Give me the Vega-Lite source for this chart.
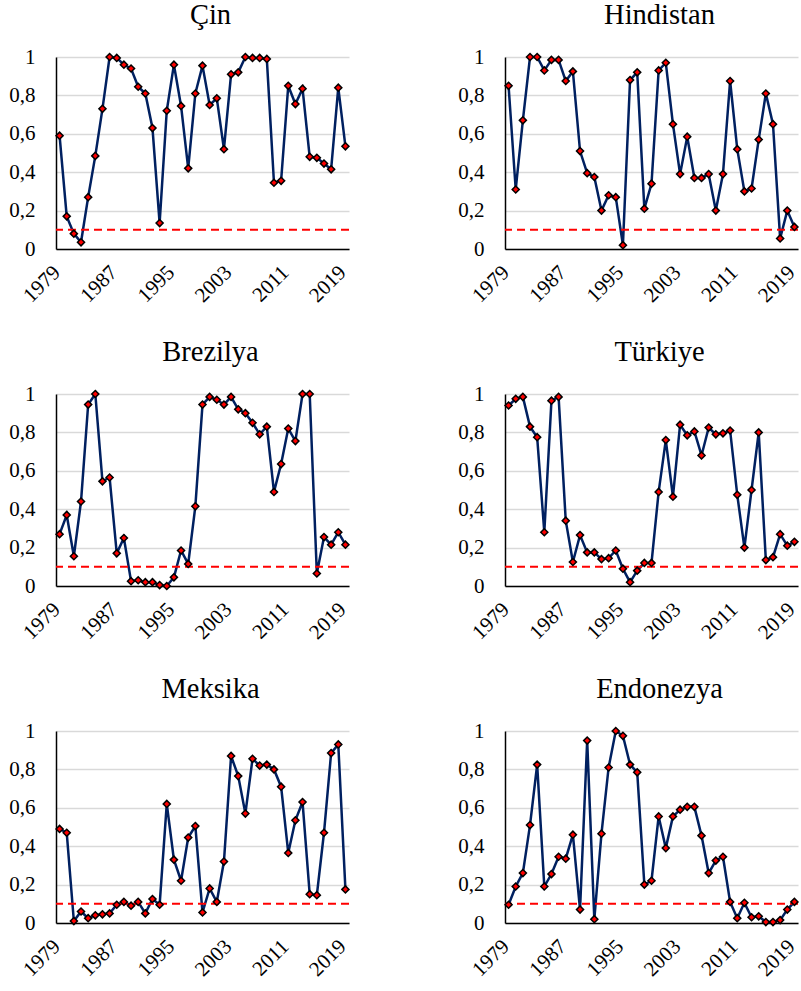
{
  "$schema": "https://vega.github.io/schema/vega-lite/v6.json",
  "background": "white",
  "padding": {"left": 8, "top": 0, "right": 0, "bottom": 0},
  "datasets": {
    "thr": [{"threshold": 0.1}],
    "d": [
      {"country":"Çin","year":1979,"value":0.59},{"country":"Çin","year":1980,"value":0.17},{"country":"Çin","year":1981,"value":0.08},{"country":"Çin","year":1982,"value":0.035},{"country":"Çin","year":1983,"value":0.27},{"country":"Çin","year":1984,"value":0.485},{"country":"Çin","year":1985,"value":0.73},{"country":"Çin","year":1986,"value":1.0},{"country":"Çin","year":1987,"value":0.995},{"country":"Çin","year":1988,"value":0.96},{"country":"Çin","year":1989,"value":0.94},{"country":"Çin","year":1990,"value":0.845},{"country":"Çin","year":1991,"value":0.81},{"country":"Çin","year":1992,"value":0.63},{"country":"Çin","year":1993,"value":0.135},{"country":"Çin","year":1994,"value":0.72},{"country":"Çin","year":1995,"value":0.96},{"country":"Çin","year":1996,"value":0.745},{"country":"Çin","year":1997,"value":0.42},{"country":"Çin","year":1998,"value":0.81},{"country":"Çin","year":1999,"value":0.955},{"country":"Çin","year":2000,"value":0.75},{"country":"Çin","year":2001,"value":0.785},{"country":"Çin","year":2002,"value":0.52},{"country":"Çin","year":2003,"value":0.91},{"country":"Çin","year":2004,"value":0.92},{"country":"Çin","year":2005,"value":1.0},{"country":"Çin","year":2006,"value":0.995},{"country":"Çin","year":2007,"value":0.995},{"country":"Çin","year":2008,"value":0.99},{"country":"Çin","year":2009,"value":0.345},{"country":"Çin","year":2010,"value":0.355},{"country":"Çin","year":2011,"value":0.85},{"country":"Çin","year":2012,"value":0.755},{"country":"Çin","year":2013,"value":0.835},{"country":"Çin","year":2014,"value":0.48},{"country":"Çin","year":2015,"value":0.475},{"country":"Çin","year":2016,"value":0.445},{"country":"Çin","year":2017,"value":0.415},{"country":"Çin","year":2018,"value":0.84},{"country":"Çin","year":2019,"value":0.535},
      {"country":"Hindistan","year":1979,"value":0.85},{"country":"Hindistan","year":1980,"value":0.31},{"country":"Hindistan","year":1981,"value":0.67},{"country":"Hindistan","year":1982,"value":1.0},{"country":"Hindistan","year":1983,"value":1.0},{"country":"Hindistan","year":1984,"value":0.93},{"country":"Hindistan","year":1985,"value":0.985},{"country":"Hindistan","year":1986,"value":0.985},{"country":"Hindistan","year":1987,"value":0.875},{"country":"Hindistan","year":1988,"value":0.925},{"country":"Hindistan","year":1989,"value":0.51},{"country":"Hindistan","year":1990,"value":0.395},{"country":"Hindistan","year":1991,"value":0.375},{"country":"Hindistan","year":1992,"value":0.2},{"country":"Hindistan","year":1993,"value":0.28},{"country":"Hindistan","year":1994,"value":0.27},{"country":"Hindistan","year":1995,"value":0.02},{"country":"Hindistan","year":1996,"value":0.88},{"country":"Hindistan","year":1997,"value":0.92},{"country":"Hindistan","year":1998,"value":0.21},{"country":"Hindistan","year":1999,"value":0.34},{"country":"Hindistan","year":2000,"value":0.93},{"country":"Hindistan","year":2001,"value":0.97},{"country":"Hindistan","year":2002,"value":0.65},{"country":"Hindistan","year":2003,"value":0.39},{"country":"Hindistan","year":2004,"value":0.585},{"country":"Hindistan","year":2005,"value":0.37},{"country":"Hindistan","year":2006,"value":0.37},{"country":"Hindistan","year":2007,"value":0.39},{"country":"Hindistan","year":2008,"value":0.2},{"country":"Hindistan","year":2009,"value":0.39},{"country":"Hindistan","year":2010,"value":0.875},{"country":"Hindistan","year":2011,"value":0.52},{"country":"Hindistan","year":2012,"value":0.3},{"country":"Hindistan","year":2013,"value":0.315},{"country":"Hindistan","year":2014,"value":0.57},{"country":"Hindistan","year":2015,"value":0.81},{"country":"Hindistan","year":2016,"value":0.65},{"country":"Hindistan","year":2017,"value":0.055},{"country":"Hindistan","year":2018,"value":0.2},{"country":"Hindistan","year":2019,"value":0.115},
      {"country":"Brezilya","year":1979,"value":0.27},{"country":"Brezilya","year":1980,"value":0.37},{"country":"Brezilya","year":1981,"value":0.155},{"country":"Brezilya","year":1982,"value":0.44},{"country":"Brezilya","year":1983,"value":0.945},{"country":"Brezilya","year":1984,"value":1.0},{"country":"Brezilya","year":1985,"value":0.545},{"country":"Brezilya","year":1986,"value":0.565},{"country":"Brezilya","year":1987,"value":0.17},{"country":"Brezilya","year":1988,"value":0.25},{"country":"Brezilya","year":1989,"value":0.025},{"country":"Brezilya","year":1990,"value":0.03},{"country":"Brezilya","year":1991,"value":0.02},{"country":"Brezilya","year":1992,"value":0.02},{"country":"Brezilya","year":1993,"value":0.005},{"country":"Brezilya","year":1994,"value":0.0},{"country":"Brezilya","year":1995,"value":0.045},{"country":"Brezilya","year":1996,"value":0.185},{"country":"Brezilya","year":1997,"value":0.115},{"country":"Brezilya","year":1998,"value":0.415},{"country":"Brezilya","year":1999,"value":0.945},{"country":"Brezilya","year":2000,"value":0.985},{"country":"Brezilya","year":2001,"value":0.97},{"country":"Brezilya","year":2002,"value":0.945},{"country":"Brezilya","year":2003,"value":0.985},{"country":"Brezilya","year":2004,"value":0.92},{"country":"Brezilya","year":2005,"value":0.9},{"country":"Brezilya","year":2006,"value":0.85},{"country":"Brezilya","year":2007,"value":0.79},{"country":"Brezilya","year":2008,"value":0.83},{"country":"Brezilya","year":2009,"value":0.49},{"country":"Brezilya","year":2010,"value":0.635},{"country":"Brezilya","year":2011,"value":0.82},{"country":"Brezilya","year":2012,"value":0.755},{"country":"Brezilya","year":2013,"value":1.0},{"country":"Brezilya","year":2014,"value":1.0},{"country":"Brezilya","year":2015,"value":0.065},{"country":"Brezilya","year":2016,"value":0.255},{"country":"Brezilya","year":2017,"value":0.215},{"country":"Brezilya","year":2018,"value":0.28},{"country":"Brezilya","year":2019,"value":0.215},
      {"country":"Türkiye","year":1979,"value":0.94},{"country":"Türkiye","year":1980,"value":0.975},{"country":"Türkiye","year":1981,"value":0.985},{"country":"Türkiye","year":1982,"value":0.83},{"country":"Türkiye","year":1983,"value":0.775},{"country":"Türkiye","year":1984,"value":0.28},{"country":"Türkiye","year":1985,"value":0.965},{"country":"Türkiye","year":1986,"value":0.985},{"country":"Türkiye","year":1987,"value":0.34},{"country":"Türkiye","year":1988,"value":0.125},{"country":"Türkiye","year":1989,"value":0.265},{"country":"Türkiye","year":1990,"value":0.175},{"country":"Türkiye","year":1991,"value":0.175},{"country":"Türkiye","year":1992,"value":0.14},{"country":"Türkiye","year":1993,"value":0.145},{"country":"Türkiye","year":1994,"value":0.185},{"country":"Türkiye","year":1995,"value":0.09},{"country":"Türkiye","year":1996,"value":0.02},{"country":"Türkiye","year":1997,"value":0.08},{"country":"Türkiye","year":1998,"value":0.12},{"country":"Türkiye","year":1999,"value":0.12},{"country":"Türkiye","year":2000,"value":0.49},{"country":"Türkiye","year":2001,"value":0.76},{"country":"Türkiye","year":2002,"value":0.465},{"country":"Türkiye","year":2003,"value":0.84},{"country":"Türkiye","year":2004,"value":0.785},{"country":"Türkiye","year":2005,"value":0.805},{"country":"Türkiye","year":2006,"value":0.68},{"country":"Türkiye","year":2007,"value":0.825},{"country":"Türkiye","year":2008,"value":0.79},{"country":"Türkiye","year":2009,"value":0.795},{"country":"Türkiye","year":2010,"value":0.81},{"country":"Türkiye","year":2011,"value":0.475},{"country":"Türkiye","year":2012,"value":0.2},{"country":"Türkiye","year":2013,"value":0.5},{"country":"Türkiye","year":2014,"value":0.8},{"country":"Türkiye","year":2015,"value":0.135},{"country":"Türkiye","year":2016,"value":0.15},{"country":"Türkiye","year":2017,"value":0.27},{"country":"Türkiye","year":2018,"value":0.21},{"country":"Türkiye","year":2019,"value":0.23},
      {"country":"Meksika","year":1979,"value":0.49},{"country":"Meksika","year":1980,"value":0.47},{"country":"Meksika","year":1981,"value":0.01},{"country":"Meksika","year":1982,"value":0.06},{"country":"Meksika","year":1983,"value":0.025},{"country":"Meksika","year":1984,"value":0.04},{"country":"Meksika","year":1985,"value":0.045},{"country":"Meksika","year":1986,"value":0.05},{"country":"Meksika","year":1987,"value":0.095},{"country":"Meksika","year":1988,"value":0.11},{"country":"Meksika","year":1989,"value":0.09},{"country":"Meksika","year":1990,"value":0.11},{"country":"Meksika","year":1991,"value":0.05},{"country":"Meksika","year":1992,"value":0.125},{"country":"Meksika","year":1993,"value":0.095},{"country":"Meksika","year":1994,"value":0.62},{"country":"Meksika","year":1995,"value":0.33},{"country":"Meksika","year":1996,"value":0.22},{"country":"Meksika","year":1997,"value":0.445},{"country":"Meksika","year":1998,"value":0.505},{"country":"Meksika","year":1999,"value":0.055},{"country":"Meksika","year":2000,"value":0.18},{"country":"Meksika","year":2001,"value":0.11},{"country":"Meksika","year":2002,"value":0.32},{"country":"Meksika","year":2003,"value":0.87},{"country":"Meksika","year":2004,"value":0.765},{"country":"Meksika","year":2005,"value":0.57},{"country":"Meksika","year":2006,"value":0.855},{"country":"Meksika","year":2007,"value":0.82},{"country":"Meksika","year":2008,"value":0.825},{"country":"Meksika","year":2009,"value":0.8},{"country":"Meksika","year":2010,"value":0.71},{"country":"Meksika","year":2011,"value":0.365},{"country":"Meksika","year":2012,"value":0.535},{"country":"Meksika","year":2013,"value":0.63},{"country":"Meksika","year":2014,"value":0.15},{"country":"Meksika","year":2015,"value":0.145},{"country":"Meksika","year":2016,"value":0.47},{"country":"Meksika","year":2017,"value":0.885},{"country":"Meksika","year":2018,"value":0.93},{"country":"Meksika","year":2019,"value":0.175},
      {"country":"Endonezya","year":1979,"value":0.095},{"country":"Endonezya","year":1980,"value":0.19},{"country":"Endonezya","year":1981,"value":0.26},{"country":"Endonezya","year":1982,"value":0.51},{"country":"Endonezya","year":1983,"value":0.825},{"country":"Endonezya","year":1984,"value":0.19},{"country":"Endonezya","year":1985,"value":0.255},{"country":"Endonezya","year":1986,"value":0.345},{"country":"Endonezya","year":1987,"value":0.335},{"country":"Endonezya","year":1988,"value":0.46},{"country":"Endonezya","year":1989,"value":0.07},{"country":"Endonezya","year":1990,"value":0.95},{"country":"Endonezya","year":1991,"value":0.02},{"country":"Endonezya","year":1992,"value":0.465},{"country":"Endonezya","year":1993,"value":0.81},{"country":"Endonezya","year":1994,"value":1.0},{"country":"Endonezya","year":1995,"value":0.975},{"country":"Endonezya","year":1996,"value":0.825},{"country":"Endonezya","year":1997,"value":0.785},{"country":"Endonezya","year":1998,"value":0.2},{"country":"Endonezya","year":1999,"value":0.22},{"country":"Endonezya","year":2000,"value":0.555},{"country":"Endonezya","year":2001,"value":0.39},{"country":"Endonezya","year":2002,"value":0.555},{"country":"Endonezya","year":2003,"value":0.59},{"country":"Endonezya","year":2004,"value":0.605},{"country":"Endonezya","year":2005,"value":0.605},{"country":"Endonezya","year":2006,"value":0.455},{"country":"Endonezya","year":2007,"value":0.26},{"country":"Endonezya","year":2008,"value":0.325},{"country":"Endonezya","year":2009,"value":0.345},{"country":"Endonezya","year":2010,"value":0.11},{"country":"Endonezya","year":2011,"value":0.025},{"country":"Endonezya","year":2012,"value":0.105},{"country":"Endonezya","year":2013,"value":0.03},{"country":"Endonezya","year":2014,"value":0.035},{"country":"Endonezya","year":2015,"value":0.005},{"country":"Endonezya","year":2016,"value":0.005},{"country":"Endonezya","year":2017,"value":0.015},{"country":"Endonezya","year":2018,"value":0.07},{"country":"Endonezya","year":2019,"value":0.11}
    ]
  },
  "columns": 2,
  "spacing": {"row": 145, "column": 156},
  "bounds": "flush",
  "concat": [
    {"width": 293, "height": 192, "title": "Çin",
     "layer": [
      {"data": {"name": "d"}, "transform": [{"filter": "datum.country == 'Çin'"}], "mark": {"type": "line", "color": "#002060", "strokeWidth": 2.5},
       "encoding": {"x": {"field": "year", "type": "quantitative", "title": null, "scale": {"domain": [1978.5, 2019.5], "nice": false, "zero": false}, "axis": {"values": [1979, 1987, 1995, 2003, 2011, 2019], "format": "d", "labelAngle": -45, "labelAlign": "right", "labelBaseline": "middle", "labelPadding": 20, "labelOffset": -3, "labelOverlap": false, "labelFont": "Liberation Serif, serif", "labelFontSize": 21}},
        "y": {"field": "value", "type": "quantitative", "title": null, "scale": {"domain": [0, 1], "nice": false}, "axis": {"values": [0, 0.2, 0.4, 0.6, 0.8, 1], "labelExpr": "replace(format(datum.value, '~g'), '.', ',')", "labelPadding": 21, "grid": true, "labelOverlap": false, "labelFont": "Liberation Serif, serif", "labelFontSize": 21}}}},
      {"data": {"name": "thr"}, "mark": {"type": "rule", "color": "#FF0000", "strokeWidth": 2, "strokeDash": [8, 5]}, "encoding": {"y": {"field": "threshold", "type": "quantitative", "title": null, "axis": {"values": [0, 0.2, 0.4, 0.6, 0.8, 1], "labelExpr": "replace(format(datum.value, '~g'), '.', ',')", "labelPadding": 21, "grid": true, "labelOverlap": false, "labelFont": "Liberation Serif, serif", "labelFontSize": 21}}}},
      {"data": {"name": "d"}, "transform": [{"filter": "datum.country == 'Çin'"}], "mark": {"type": "point", "shape": "diamond", "filled": true, "fill": "#FF0000", "stroke": "black", "strokeWidth": 1.5, "size": 50, "opacity": 1},
       "encoding": {"x": {"field": "year", "type": "quantitative", "title": null, "axis": {"values": [1979, 1987, 1995, 2003, 2011, 2019], "format": "d", "labelAngle": -45, "labelAlign": "right", "labelBaseline": "middle", "labelPadding": 20, "labelOffset": -3, "labelOverlap": false, "labelFont": "Liberation Serif, serif", "labelFontSize": 21}}, "y": {"field": "value", "type": "quantitative", "title": null, "axis": {"values": [0, 0.2, 0.4, 0.6, 0.8, 1], "labelExpr": "replace(format(datum.value, '~g'), '.', ',')", "labelPadding": 21, "grid": true, "labelOverlap": false, "labelFont": "Liberation Serif, serif", "labelFontSize": 21}}}}
     ]},
    {"width": 293, "height": 192, "title": "Hindistan",
     "layer": [
      {"data": {"name": "d"}, "transform": [{"filter": "datum.country == 'Hindistan'"}], "mark": {"type": "line", "color": "#002060", "strokeWidth": 2.5},
       "encoding": {"x": {"field": "year", "type": "quantitative", "title": null, "scale": {"domain": [1978.5, 2019.5], "nice": false, "zero": false}, "axis": {"values": [1979, 1987, 1995, 2003, 2011, 2019], "format": "d", "labelAngle": -45, "labelAlign": "right", "labelBaseline": "middle", "labelPadding": 20, "labelOffset": -3, "labelOverlap": false, "labelFont": "Liberation Serif, serif", "labelFontSize": 21}},
        "y": {"field": "value", "type": "quantitative", "title": null, "scale": {"domain": [0, 1], "nice": false}, "axis": {"values": [0, 0.2, 0.4, 0.6, 0.8, 1], "labelExpr": "replace(format(datum.value, '~g'), '.', ',')", "labelPadding": 21, "grid": true, "labelOverlap": false, "labelFont": "Liberation Serif, serif", "labelFontSize": 21}}}},
      {"data": {"name": "thr"}, "mark": {"type": "rule", "color": "#FF0000", "strokeWidth": 2, "strokeDash": [8, 5]}, "encoding": {"y": {"field": "threshold", "type": "quantitative", "title": null, "axis": {"values": [0, 0.2, 0.4, 0.6, 0.8, 1], "labelExpr": "replace(format(datum.value, '~g'), '.', ',')", "labelPadding": 21, "grid": true, "labelOverlap": false, "labelFont": "Liberation Serif, serif", "labelFontSize": 21}}}},
      {"data": {"name": "d"}, "transform": [{"filter": "datum.country == 'Hindistan'"}], "mark": {"type": "point", "shape": "diamond", "filled": true, "fill": "#FF0000", "stroke": "black", "strokeWidth": 1.5, "size": 50, "opacity": 1},
       "encoding": {"x": {"field": "year", "type": "quantitative", "title": null, "axis": {"values": [1979, 1987, 1995, 2003, 2011, 2019], "format": "d", "labelAngle": -45, "labelAlign": "right", "labelBaseline": "middle", "labelPadding": 20, "labelOffset": -3, "labelOverlap": false, "labelFont": "Liberation Serif, serif", "labelFontSize": 21}}, "y": {"field": "value", "type": "quantitative", "title": null, "axis": {"values": [0, 0.2, 0.4, 0.6, 0.8, 1], "labelExpr": "replace(format(datum.value, '~g'), '.', ',')", "labelPadding": 21, "grid": true, "labelOverlap": false, "labelFont": "Liberation Serif, serif", "labelFontSize": 21}}}}
     ]},
    {"width": 293, "height": 192, "title": "Brezilya",
     "layer": [
      {"data": {"name": "d"}, "transform": [{"filter": "datum.country == 'Brezilya'"}], "mark": {"type": "line", "color": "#002060", "strokeWidth": 2.5},
       "encoding": {"x": {"field": "year", "type": "quantitative", "title": null, "scale": {"domain": [1978.5, 2019.5], "nice": false, "zero": false}, "axis": {"values": [1979, 1987, 1995, 2003, 2011, 2019], "format": "d", "labelAngle": -45, "labelAlign": "right", "labelBaseline": "middle", "labelPadding": 20, "labelOffset": -3, "labelOverlap": false, "labelFont": "Liberation Serif, serif", "labelFontSize": 21}},
        "y": {"field": "value", "type": "quantitative", "title": null, "scale": {"domain": [0, 1], "nice": false}, "axis": {"values": [0, 0.2, 0.4, 0.6, 0.8, 1], "labelExpr": "replace(format(datum.value, '~g'), '.', ',')", "labelPadding": 21, "grid": true, "labelOverlap": false, "labelFont": "Liberation Serif, serif", "labelFontSize": 21}}}},
      {"data": {"name": "thr"}, "mark": {"type": "rule", "color": "#FF0000", "strokeWidth": 2, "strokeDash": [8, 5]}, "encoding": {"y": {"field": "threshold", "type": "quantitative", "title": null, "axis": {"values": [0, 0.2, 0.4, 0.6, 0.8, 1], "labelExpr": "replace(format(datum.value, '~g'), '.', ',')", "labelPadding": 21, "grid": true, "labelOverlap": false, "labelFont": "Liberation Serif, serif", "labelFontSize": 21}}}},
      {"data": {"name": "d"}, "transform": [{"filter": "datum.country == 'Brezilya'"}], "mark": {"type": "point", "shape": "diamond", "filled": true, "fill": "#FF0000", "stroke": "black", "strokeWidth": 1.5, "size": 50, "opacity": 1},
       "encoding": {"x": {"field": "year", "type": "quantitative", "title": null, "axis": {"values": [1979, 1987, 1995, 2003, 2011, 2019], "format": "d", "labelAngle": -45, "labelAlign": "right", "labelBaseline": "middle", "labelPadding": 20, "labelOffset": -3, "labelOverlap": false, "labelFont": "Liberation Serif, serif", "labelFontSize": 21}}, "y": {"field": "value", "type": "quantitative", "title": null, "axis": {"values": [0, 0.2, 0.4, 0.6, 0.8, 1], "labelExpr": "replace(format(datum.value, '~g'), '.', ',')", "labelPadding": 21, "grid": true, "labelOverlap": false, "labelFont": "Liberation Serif, serif", "labelFontSize": 21}}}}
     ]},
    {"width": 293, "height": 192, "title": "Türkiye",
     "layer": [
      {"data": {"name": "d"}, "transform": [{"filter": "datum.country == 'Türkiye'"}], "mark": {"type": "line", "color": "#002060", "strokeWidth": 2.5},
       "encoding": {"x": {"field": "year", "type": "quantitative", "title": null, "scale": {"domain": [1978.5, 2019.5], "nice": false, "zero": false}, "axis": {"values": [1979, 1987, 1995, 2003, 2011, 2019], "format": "d", "labelAngle": -45, "labelAlign": "right", "labelBaseline": "middle", "labelPadding": 20, "labelOffset": -3, "labelOverlap": false, "labelFont": "Liberation Serif, serif", "labelFontSize": 21}},
        "y": {"field": "value", "type": "quantitative", "title": null, "scale": {"domain": [0, 1], "nice": false}, "axis": {"values": [0, 0.2, 0.4, 0.6, 0.8, 1], "labelExpr": "replace(format(datum.value, '~g'), '.', ',')", "labelPadding": 21, "grid": true, "labelOverlap": false, "labelFont": "Liberation Serif, serif", "labelFontSize": 21}}}},
      {"data": {"name": "thr"}, "mark": {"type": "rule", "color": "#FF0000", "strokeWidth": 2, "strokeDash": [8, 5]}, "encoding": {"y": {"field": "threshold", "type": "quantitative", "title": null, "axis": {"values": [0, 0.2, 0.4, 0.6, 0.8, 1], "labelExpr": "replace(format(datum.value, '~g'), '.', ',')", "labelPadding": 21, "grid": true, "labelOverlap": false, "labelFont": "Liberation Serif, serif", "labelFontSize": 21}}}},
      {"data": {"name": "d"}, "transform": [{"filter": "datum.country == 'Türkiye'"}], "mark": {"type": "point", "shape": "diamond", "filled": true, "fill": "#FF0000", "stroke": "black", "strokeWidth": 1.5, "size": 50, "opacity": 1},
       "encoding": {"x": {"field": "year", "type": "quantitative", "title": null, "axis": {"values": [1979, 1987, 1995, 2003, 2011, 2019], "format": "d", "labelAngle": -45, "labelAlign": "right", "labelBaseline": "middle", "labelPadding": 20, "labelOffset": -3, "labelOverlap": false, "labelFont": "Liberation Serif, serif", "labelFontSize": 21}}, "y": {"field": "value", "type": "quantitative", "title": null, "axis": {"values": [0, 0.2, 0.4, 0.6, 0.8, 1], "labelExpr": "replace(format(datum.value, '~g'), '.', ',')", "labelPadding": 21, "grid": true, "labelOverlap": false, "labelFont": "Liberation Serif, serif", "labelFontSize": 21}}}}
     ]},
    {"width": 293, "height": 192, "title": "Meksika",
     "layer": [
      {"data": {"name": "d"}, "transform": [{"filter": "datum.country == 'Meksika'"}], "mark": {"type": "line", "color": "#002060", "strokeWidth": 2.5},
       "encoding": {"x": {"field": "year", "type": "quantitative", "title": null, "scale": {"domain": [1978.5, 2019.5], "nice": false, "zero": false}, "axis": {"values": [1979, 1987, 1995, 2003, 2011, 2019], "format": "d", "labelAngle": -45, "labelAlign": "right", "labelBaseline": "middle", "labelPadding": 20, "labelOffset": -3, "labelOverlap": false, "labelFont": "Liberation Serif, serif", "labelFontSize": 21}},
        "y": {"field": "value", "type": "quantitative", "title": null, "scale": {"domain": [0, 1], "nice": false}, "axis": {"values": [0, 0.2, 0.4, 0.6, 0.8, 1], "labelExpr": "replace(format(datum.value, '~g'), '.', ',')", "labelPadding": 21, "grid": true, "labelOverlap": false, "labelFont": "Liberation Serif, serif", "labelFontSize": 21}}}},
      {"data": {"name": "thr"}, "mark": {"type": "rule", "color": "#FF0000", "strokeWidth": 2, "strokeDash": [8, 5]}, "encoding": {"y": {"field": "threshold", "type": "quantitative", "title": null, "axis": {"values": [0, 0.2, 0.4, 0.6, 0.8, 1], "labelExpr": "replace(format(datum.value, '~g'), '.', ',')", "labelPadding": 21, "grid": true, "labelOverlap": false, "labelFont": "Liberation Serif, serif", "labelFontSize": 21}}}},
      {"data": {"name": "d"}, "transform": [{"filter": "datum.country == 'Meksika'"}], "mark": {"type": "point", "shape": "diamond", "filled": true, "fill": "#FF0000", "stroke": "black", "strokeWidth": 1.5, "size": 50, "opacity": 1},
       "encoding": {"x": {"field": "year", "type": "quantitative", "title": null, "axis": {"values": [1979, 1987, 1995, 2003, 2011, 2019], "format": "d", "labelAngle": -45, "labelAlign": "right", "labelBaseline": "middle", "labelPadding": 20, "labelOffset": -3, "labelOverlap": false, "labelFont": "Liberation Serif, serif", "labelFontSize": 21}}, "y": {"field": "value", "type": "quantitative", "title": null, "axis": {"values": [0, 0.2, 0.4, 0.6, 0.8, 1], "labelExpr": "replace(format(datum.value, '~g'), '.', ',')", "labelPadding": 21, "grid": true, "labelOverlap": false, "labelFont": "Liberation Serif, serif", "labelFontSize": 21}}}}
     ]},
    {"width": 293, "height": 192, "title": "Endonezya",
     "layer": [
      {"data": {"name": "d"}, "transform": [{"filter": "datum.country == 'Endonezya'"}], "mark": {"type": "line", "color": "#002060", "strokeWidth": 2.5},
       "encoding": {"x": {"field": "year", "type": "quantitative", "title": null, "scale": {"domain": [1978.5, 2019.5], "nice": false, "zero": false}, "axis": {"values": [1979, 1987, 1995, 2003, 2011, 2019], "format": "d", "labelAngle": -45, "labelAlign": "right", "labelBaseline": "middle", "labelPadding": 20, "labelOffset": -3, "labelOverlap": false, "labelFont": "Liberation Serif, serif", "labelFontSize": 21}},
        "y": {"field": "value", "type": "quantitative", "title": null, "scale": {"domain": [0, 1], "nice": false}, "axis": {"values": [0, 0.2, 0.4, 0.6, 0.8, 1], "labelExpr": "replace(format(datum.value, '~g'), '.', ',')", "labelPadding": 21, "grid": true, "labelOverlap": false, "labelFont": "Liberation Serif, serif", "labelFontSize": 21}}}},
      {"data": {"name": "thr"}, "mark": {"type": "rule", "color": "#FF0000", "strokeWidth": 2, "strokeDash": [8, 5]}, "encoding": {"y": {"field": "threshold", "type": "quantitative", "title": null, "axis": {"values": [0, 0.2, 0.4, 0.6, 0.8, 1], "labelExpr": "replace(format(datum.value, '~g'), '.', ',')", "labelPadding": 21, "grid": true, "labelOverlap": false, "labelFont": "Liberation Serif, serif", "labelFontSize": 21}}}},
      {"data": {"name": "d"}, "transform": [{"filter": "datum.country == 'Endonezya'"}], "mark": {"type": "point", "shape": "diamond", "filled": true, "fill": "#FF0000", "stroke": "black", "strokeWidth": 1.5, "size": 50, "opacity": 1},
       "encoding": {"x": {"field": "year", "type": "quantitative", "title": null, "axis": {"values": [1979, 1987, 1995, 2003, 2011, 2019], "format": "d", "labelAngle": -45, "labelAlign": "right", "labelBaseline": "middle", "labelPadding": 20, "labelOffset": -3, "labelOverlap": false, "labelFont": "Liberation Serif, serif", "labelFontSize": 21}}, "y": {"field": "value", "type": "quantitative", "title": null, "axis": {"values": [0, 0.2, 0.4, 0.6, 0.8, 1], "labelExpr": "replace(format(datum.value, '~g'), '.', ',')", "labelPadding": 21, "grid": true, "labelOverlap": false, "labelFont": "Liberation Serif, serif", "labelFontSize": 21}}}}
     ]}
  ],
  "config": {
    "view": {"stroke": null},
    "font": "Liberation Serif",
    "axis": {"labelColor": "black", "labelOverlap": false, "labelFlush": false, "labelBound": false, "ticks": false, "tickSize": 0, "domainColor": "black", "domainWidth": 1.5, "grid": false, "gridColor": "#d9d9d9", "gridWidth": 1.5},
    "title": {"font": "Liberation Serif", "fontSize": 28.5, "fontWeight": "normal", "color": "black", "frame": "group", "anchor": "middle", "dx": 8, "offset": 17}
  }
}
